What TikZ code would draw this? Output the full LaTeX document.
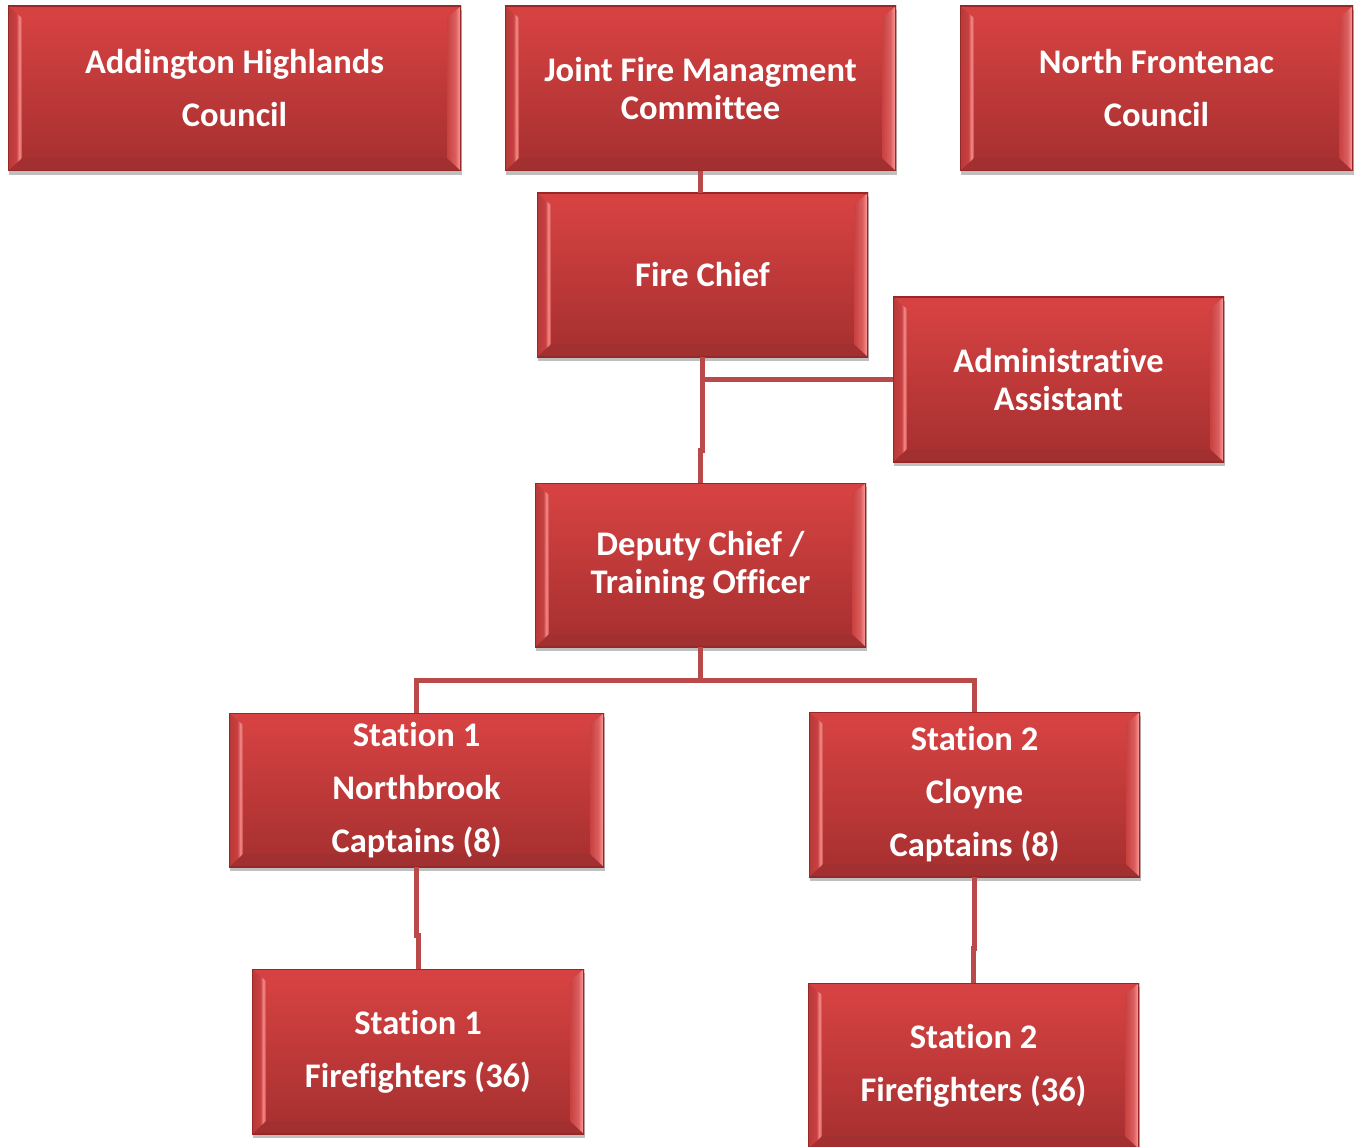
\documentclass[tikz,border=0pt]{standalone}
\usepackage{fontspec}
\setmainfont{Carlito}[Ligatures={NoCommon,NoContextual}]
\usetikzlibrary{shadows}
\definecolor{bodytop}{HTML}{D94343}
\definecolor{bodybot}{HTML}{A52F2F}
\definecolor{bevtop}{HTML}{D64242}
\definecolor{bevbot}{HTML}{A23030}
\definecolor{edgec}{HTML}{962828}
\definecolor{bevhi}{HTML}{F58C8C}
\definecolor{bevlo}{HTML}{B83838}
\definecolor{bevmid}{HTML}{C94040}
\definecolor{connc}{HTML}{BA4A4A}
\pgfdeclarehorizontalshading{bevleft}{100bp}{color(0bp)=(bevlo); color(25bp)=(bevlo); color(55bp)=(bevmid); color(66bp)=(bevhi); color(75bp)=(bevmid); color(100bp)=(bevmid)}
\pgfdeclarehorizontalshading{bevright}{100bp}{color(0bp)=(bevmid); color(25bp)=(bevmid); color(55bp)=(bevmid!60!bevhi); color(68bp)=(bevhi); color(75bp)=(bevmid!50!bevhi); color(100bp)=(bevmid!50!bevhi)}
\tikzset{
  x=1pt, y=-1pt,
  orgbox/.style={rectangle, inner sep=0pt, outer sep=0pt,
    top color=bodytop, bottom color=bodybot,
    text=white, align=center,
    drop shadow={shadow xshift=1pt, shadow yshift=-4pt, fill=black, opacity=0.25},
    path picture={
      \coordinate (pbsw) at (path picture bounding box.south west);
      \coordinate (pbnw) at (path picture bounding box.north west);
      \coordinate (pbne) at (path picture bounding box.north east);
      \coordinate (pbse) at (path picture bounding box.south east);
      \coordinate (ibsw) at ([shift={(14pt,13pt)}]pbsw);
      \coordinate (ibnw) at ([shift={(14pt,-12pt)}]pbnw);
      \coordinate (ibne) at ([shift={(-14pt,-12pt)}]pbne);
      \coordinate (ibse) at ([shift={(-14pt,13pt)}]pbse);
      \fill[bevtop] (pbnw) -- (pbne) -- (ibne) -- (ibnw) -- cycle;
      \fill[bevbot] (pbsw) -- (pbse) -- (ibse) -- (ibsw) -- cycle;
      \shade[shading=bevleft] (pbsw) -- (pbnw) -- (ibnw) -- (ibsw) -- cycle;
      \shade[shading=bevright] (pbse) -- (pbne) -- (ibne) -- (ibse) -- cycle;
      \draw[edgec, line width=1.2pt] (pbsw) rectangle (pbne);
    }},
  bigtext/.style={font=\fontsize{34.5}{53}\selectfont\bfseries},
  smalltext/.style={font=\fontsize{34.5}{38}\selectfont\bfseries},
  conn/.style={draw=connc, line width=5pt}
}
\begin{document}
\begin{tikzpicture}
\useasboundingbox (0,0) rectangle (1359,1147);
% top row
\node[orgbox, bigtext, minimum width=453pt, minimum height=165pt] (ah) at (234.5,88.5) {Addington Highlands\\Council};
\node[orgbox, smalltext, minimum width=391pt, minimum height=165pt] (joint) at (700.5,88.5) {Joint Fire Managment\\Committee};
\node[orgbox, bigtext, minimum width=393pt, minimum height=165pt] (nf) at (1156.5,88.5) {North Frontenac\\Council};
% chief & admin
\node[orgbox, bigtext, minimum width=331pt, minimum height=164pt] (chief) at (702.5,275) {Fire Chief};
\node[orgbox, smalltext, minimum width=331pt, minimum height=165pt] (admin) at (1058.5,379.5) {Administrative\\Assistant};
% deputy
\node[orgbox, smalltext, minimum width=331pt, minimum height=164pt] (deputy) at (700.5,565) {Deputy Chief /\\Training Officer};
% stations
\node[orgbox, bigtext, minimum width=375pt, minimum height=154pt] (s1c) at (416.5,790) {Station 1\\Northbrook\\Captains (8)};
\node[orgbox, bigtext, minimum width=331pt, minimum height=165pt] (s2c) at (974.5,794.5) {Station 2\\Cloyne\\Captains (8)};
\node[orgbox, bigtext, minimum width=332pt, minimum height=165pt] (s1f) at (418,1051.5) {Station 1\\Firefighters (36)};
\node[orgbox, bigtext, minimum width=331pt, minimum height=166pt] (s2f) at (973.5,1066) {Station 2\\Firefighters (36)};
% connectors
\draw[conn] (joint.south) -- (joint.south |- chief.north);
\draw[conn] (chief.south) -- ++(0,93) coordinate (cj) -| (deputy.north);
\draw[conn] (admin.west) -- (chief.south |- admin.west);
\draw[conn] (deputy.south) -- ++(0,33) coordinate (bus);
\draw[conn] (s1c.north) |- (bus) -| (s2c.north);
\draw[conn] (s1c.south) -- ++(0,68) coordinate (j1) -| (s1f.north);
\draw[conn] (s2c.south) -- ++(0,71) coordinate (j2) -| (s2f.north);
\end{tikzpicture}
\end{document}
